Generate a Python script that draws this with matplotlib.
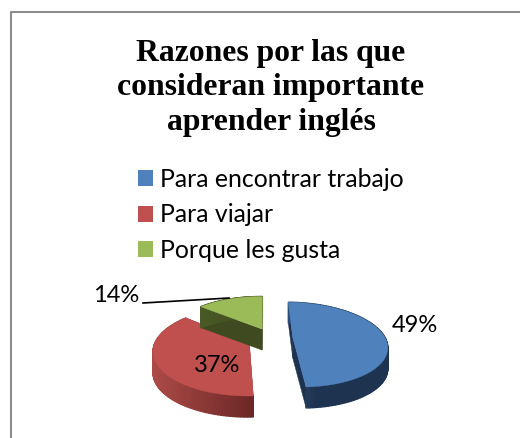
import numpy as np
import matplotlib
matplotlib.use('Agg')
import matplotlib.pyplot as plt
from matplotlib.collections import PolyCollection
from matplotlib.colors import to_rgb
from matplotlib.patches import Patch, Polygon

# datos
titulo = 'Razones por las que\nconsideran importante\naprender inglés'
categorias = ['Para encontrar trabajo', 'Para viajar', 'Porque les gusta']
valores = [49, 37, 14]

# colores: cara superior, lateral claro, lateral oscuro, corte
colores = ['#4F81BD', '#C0504D', '#9BBB59']
lateral_claro = ['#2E4D76', '#AC4A47', '#4A5A26']
lateral_oscuro = ['#1E3350', '#6B2826', '#3F4A20']
corte = ['#1E3350', '#7A2E2C', '#3F4A20']

# separacion de cada porcion (unidades del radio) y posicion de su etiqueta
separacion = [(0.41, 0.0), (-0.06, 0.143), (0.08, -0.2)]
pos_etiqueta = [(415, 325), (217, 365), (116, 295)]

# perspectiva del circulo
X0, Y0, ESC_X, ESC_Y, P = 255, 337, 92, 41, 0.18
ALTO = 21
INICIO = 1


def proyectar(u, v):
    d = 1 - P * v
    return X0 + ESC_X * u / d, Y0 + ESC_Y * v / d


def mezcla(a, b, t):
    a, b = np.array(to_rgb(a)), np.array(to_rgb(b))
    return tuple(a + (b - a) * t)


fig = plt.figure(figsize=(5.2, 4.38), dpi=100)
ax = fig.add_axes([0, 0, 1, 1])
ax.set_xlim(0, 520)
ax.set_ylim(438, 0)
ax.axis('off')

# marco del grafico (solo se ve arriba y a la izquierda)
ax.plot([10.5, 10.5, 520], [438, 11.5, 11.5], color='#8C8C8C', lw=1.5, solid_capstyle='butt')

# angulos en sentido horario desde las 12
fin = INICIO + np.cumsum(valores) / np.sum(valores) * 360
ini = np.r_[INICIO, fin[:-1]]

# azul y verde se dibujan despues del rojo, el verde tapa parte del rojo
for i in [0, 1, 2]:
    a = np.radians(np.linspace(ini[i], fin[i], 90))
    du, dv = separacion[i]
    ax_x, ax_y = proyectar(du + np.sin(a), dv - np.cos(a))
    cx, cy = proyectar(du, dv)

    # paredes de los cortes rectos
    for px, py in [(ax_x[0], ax_y[0]), (ax_x[-1], ax_y[-1])]:
        ax.add_patch(Polygon([(cx, cy), (px, py), (px, py + ALTO), (cx, cy + ALTO)],
                             closed=True, fc=corte[i], ec=corte[i], lw=0.3))

    # pared curva con degradado de izquierda a derecha
    quads = []
    tonos = []
    x_min, x_max = ax_x.min(), ax_x.max()
    for k in range(len(a) - 1):
        quads.append([(ax_x[k], ax_y[k]), (ax_x[k + 1], ax_y[k + 1]),
                      (ax_x[k + 1], ax_y[k + 1] + ALTO), (ax_x[k], ax_y[k] + ALTO)])
        t = (ax_x[k] - x_min) / (x_max - x_min)
        if i == 0:
            t = min(t * 3.5, 1)
        tonos.append(mezcla(lateral_claro[i], lateral_oscuro[i], t))
    ax.add_collection(PolyCollection(quads, facecolors=tonos, edgecolors=tonos, linewidths=1.0))

    # cara superior
    puntos = [(cx, cy)] + list(zip(ax_x, ax_y))
    ax.add_patch(Polygon(puntos, closed=True, fc=colores[i], ec=colores[i], lw=0.3))

# linea guia del 14%
ax.plot([143, 229], [303, 298], color='black', lw=1.2)

for v, (x, y) in zip(valores, pos_etiqueta):
    ax.text(x, y, '%d%%' % v, ha='center', va='center', fontsize=17, family='Lato', color='black')

ax.text(271, 88, titulo, ha='center', va='center', fontsize=22.8, family='Liberation Serif',
        weight='bold', color='black', linespacing=1.27)

handles = [Patch(fc=c, ec='none', label=n) for c, n in zip(colores, categorias)]
ax.legend(handles=handles, loc='upper left', bbox_to_anchor=(138, 168), bbox_transform=ax.transData,
          frameon=False, borderpad=0, borderaxespad=0, handlelength=0.6, handleheight=0.6,
          handletextpad=0.28, labelspacing=0.5, prop={'family': 'Lato', 'size': 17.9})

fig.savefig('out.png', dpi=100)
